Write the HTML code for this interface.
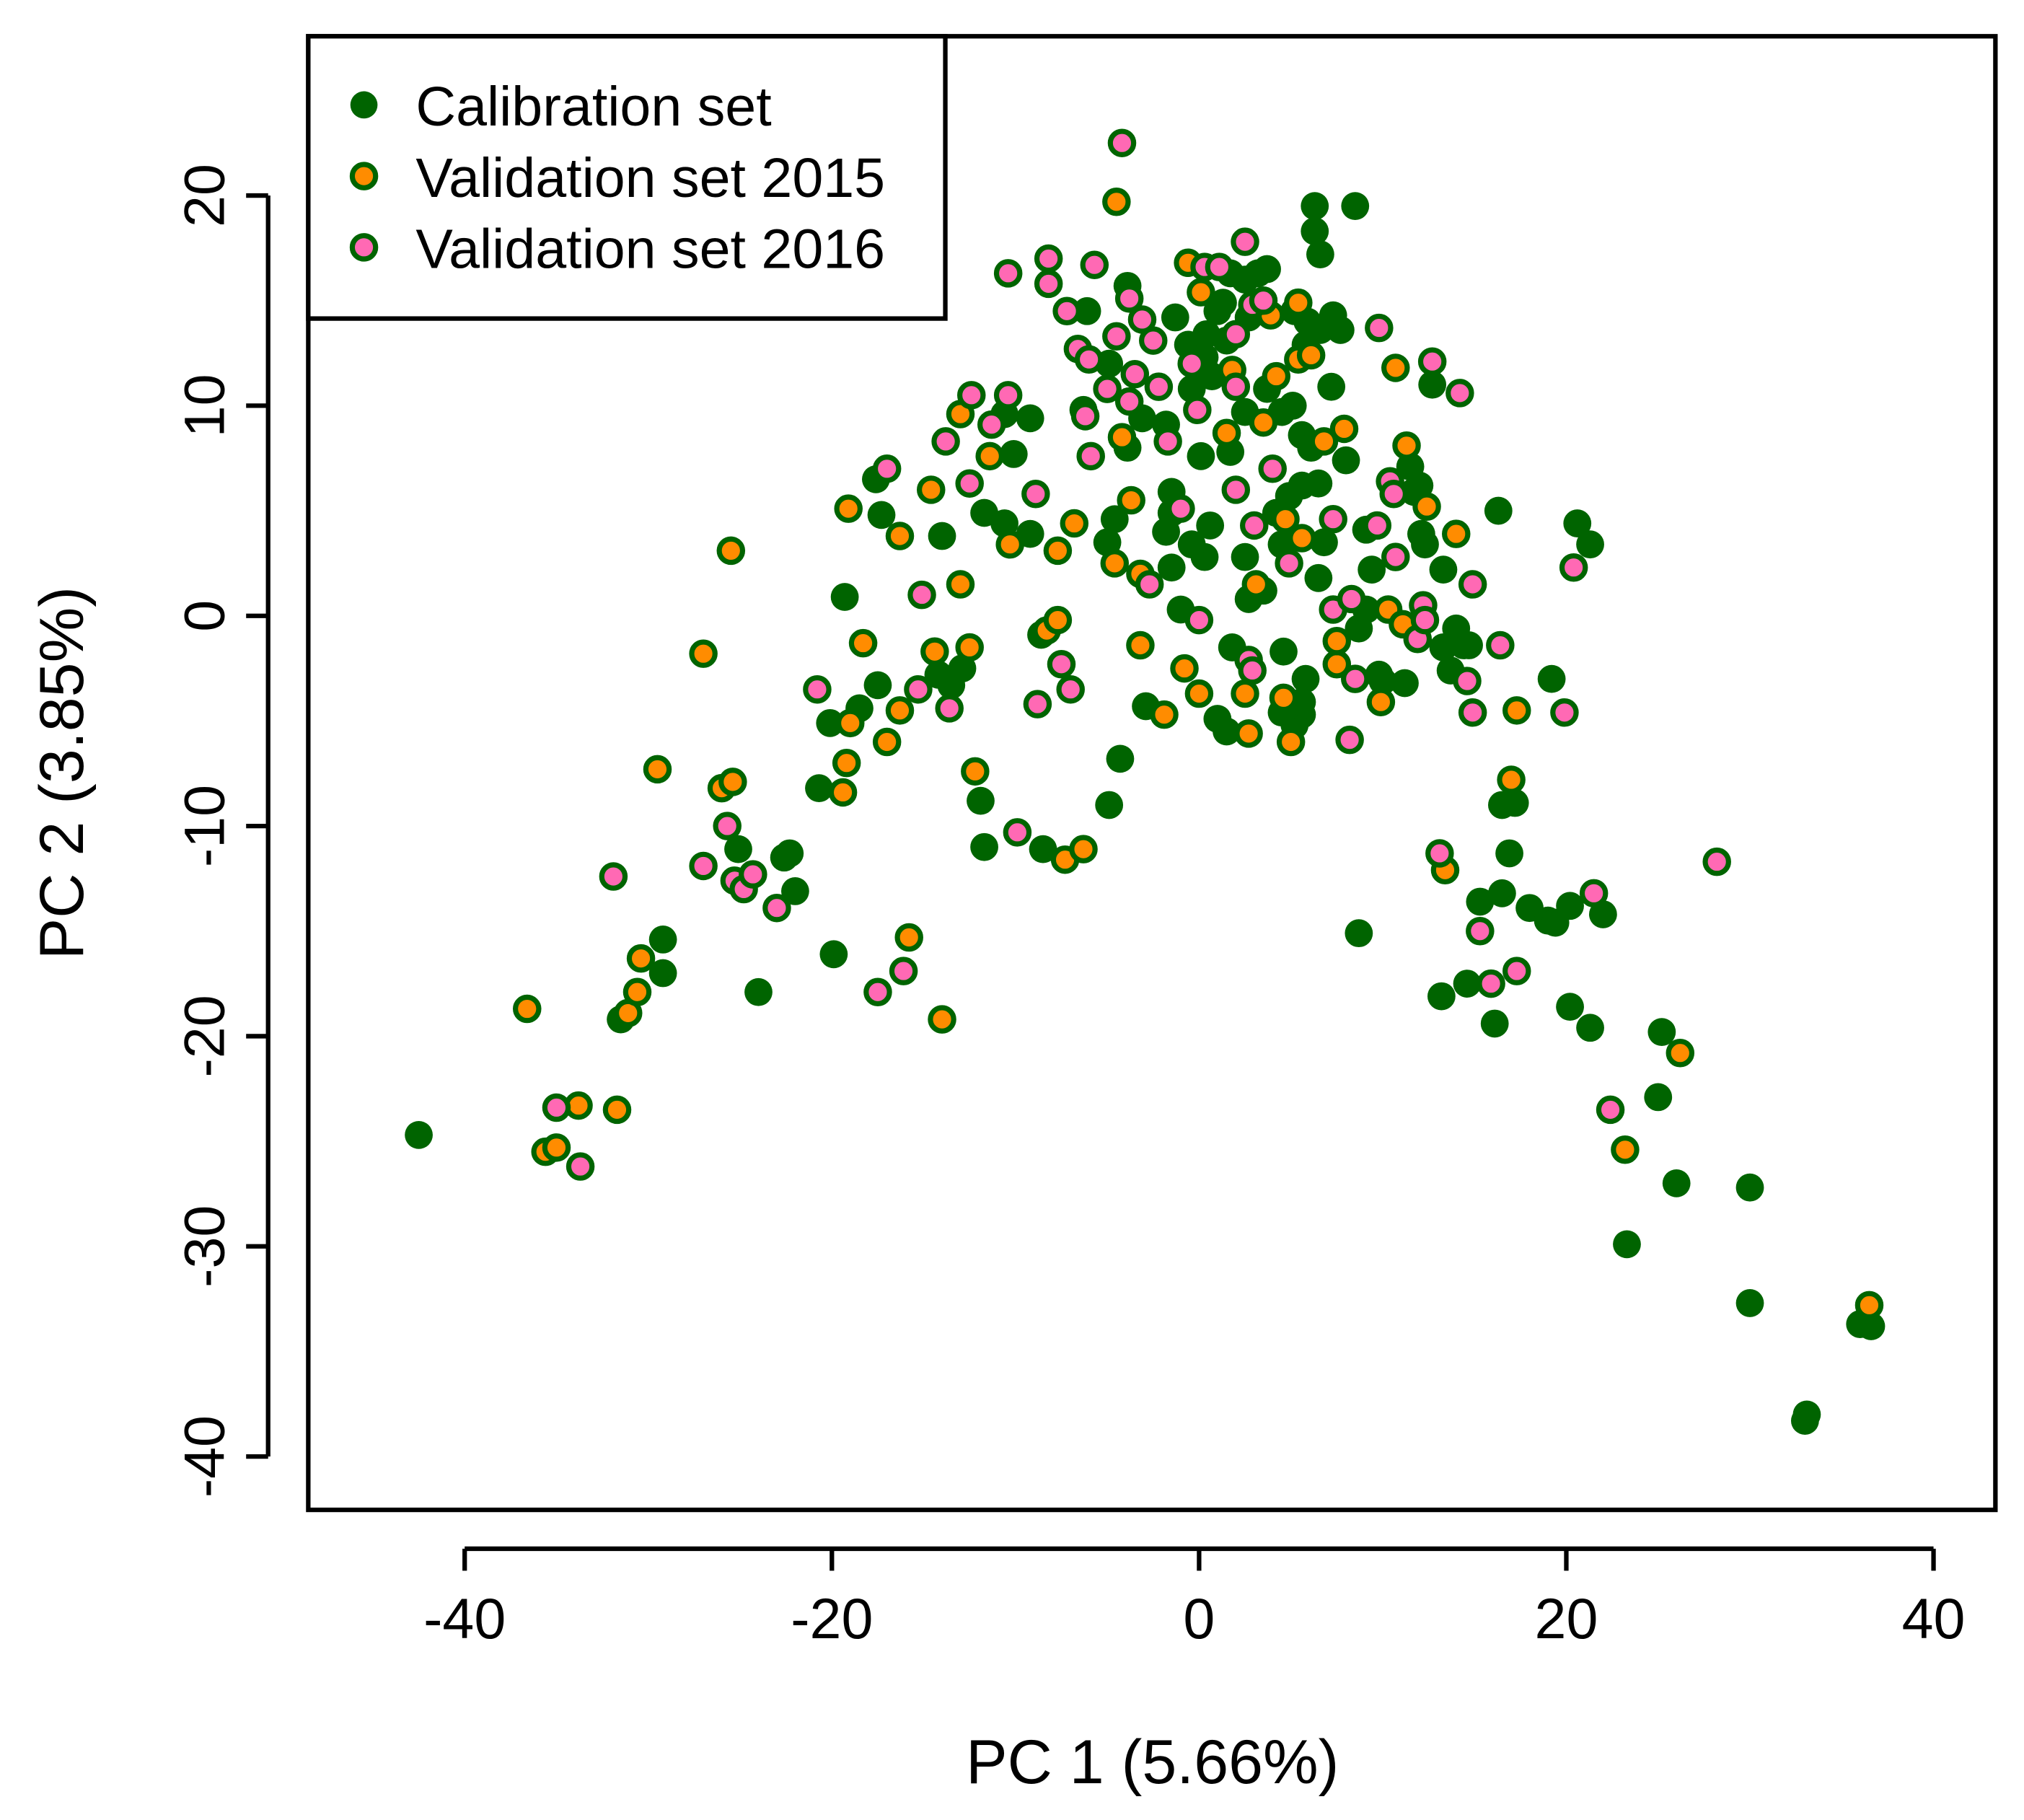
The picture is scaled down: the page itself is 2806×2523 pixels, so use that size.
<!DOCTYPE html>
<html><head><meta charset="utf-8"><style>
html,body{margin:0;padding:0;background:#fff;}
svg{display:block;}
text{font-family:"Liberation Sans",Arial,sans-serif;fill:#000;}
</style></head><body>
<svg id="chart" xmlns="http://www.w3.org/2000/svg" width="2806" height="2523" viewBox="0 0 1563 1405.5">
<rect x="0" y="0" width="1563" height="1405.5" fill="#fff"/>
<g id="points"></g>
<rect x="238" y="28" width="1303" height="1138" fill="none" stroke="#000" stroke-width="3.5"/>
<g id="xaxis"></g>
<g id="yaxis"></g>
<text x="890" y="1377" font-size="48" text-anchor="middle">PC 1 (5.66%)</text>
<text transform="translate(64,597) rotate(-90)" font-size="48" text-anchor="middle">PC 2 (3.85%)</text>
<g>
<rect x="238" y="28" width="492" height="218" fill="#fff" stroke="#000" stroke-width="3.5"/>
<circle cx="281" cy="81" r="10.5" fill="#006400"/>
<text x="321" y="97" font-size="43">Calibration set</text>
<circle cx="281" cy="136" r="9" fill="#FF8C00" stroke="#006400" stroke-width="4"/>
<text x="321" y="152" font-size="43">Validation set 2015</text>
<circle cx="281" cy="191" r="9" fill="#FF69B4" stroke="#006400" stroke-width="4"/>
<text x="321" y="207" font-size="43">Validation set 2016</text>
</g>
</svg>
<script>
const xTicks=[-40,-20,0,20,40];
const yTicks=[-40,-30,-20,-10,0,10,20];
const calX=[-42.5,33,33.1,30,30,23.3,26,25,25.2,20.2,21.3,16.1,14.6,13.2,8.7,18,19,19.4,20.2,22,16.5,15.3,16.9,16.5,17.2,19.2,16.3,20.6,21.3,6.3,8.5,6.3,36,36.6,
-24,-19.9,-31.5,-29.2,-29.2,-25.1,-22.6,-22.3,-22,-20.7,-11.7,-11.9,-8.5,-4.9,-4.3,-19.3,-20.1,-18.5,-17.5,-17.6,-17.3,
-1.3,-0.6,0.4,1,1.3,1.7,2.5,3.2,3.7,2.7,1.5,0.3,-0.4,0.7,0.1,1.7,2.5,3.7,4.5,5.1,5.6,5.8,5.9,5.2,6.6,7.3,7.7,7.2,6.1,6.5,5.6,4.9,4.2,2.5,3.5,2.7,4.5,6.8,6.5,9.1,9.4,8.7,9.1,9.8,11.2,11.5,11.7,12.1,12.3,13.3,14,14.4,13.7,14.7,13.3,5.8,5.6,5.2,4.5,5.6,4.6,1.5,1.8,0.3,0.6,-1.8,-1.5,-0.4,-1.5,-1.8,-3.1,-3.9,-4.6,-5,-1,-1.5,-2.9,1,
-14.2,-13.5,-12.9,-14,-11.7,-10.6,-9.2,-8.6,-10.1,-10.6,-9.2,-6.3,-4.9,-6.1,-3.9,12.7,6.6,8,12,10];
const calY=[-24.7,-38.3,-38,-32.7,-27.2,-29.9,-27,-22.9,-19.8,-18.6,-19.6,-19.4,-17.5,-18.1,-15.1,-13.9,-14.5,-14.6,-13.8,-14.2,-13.2,-13.6,-11.3,-9,-8.9,-3,5,4.4,3.4,19.5,19.5,18.3,-33.7,-33.8,
-17.9,-16.1,-19.2,-17,-15.4,-11.1,-11.5,-11.3,-13.1,-8.2,-11,-8.8,-11.1,-9,-6.8,0.9,-5.1,-4.4,-3.3,6.5,4.8,
14.2,12.9,13.4,14.5,14.9,16.3,16,16.3,16.5,14.2,13.1,12.3,10.8,11.4,7.6,7.8,9.7,10.8,9.7,10,8.6,12.9,14,14.5,13.6,14.3,13.6,10.9,8,6.3,6.2,5.7,4.9,2.8,1.2,0.8,3.4,3.5,1.8,4.1,2.2,-0.6,0.3,-2.8,-3.2,7.1,5.9,3.9,3.4,2.2,-0.6,-1.4,-2.6,-1.4,-1.5,-3,-4.7,-5.2,-4.6,-4.1,-1.7,-5.5,-1.5,2.8,4.3,4,4.9,3.4,5.9,9.1,9.4,8,4.6,3.5,0.3,2.3,-4.3,-4.9,
-2.8,-3.3,-2.5,3.8,4.9,4.4,3.9,-0.9,7.7,9.6,9.4,9.8,12,14.5,15.7,11,17.2,7.4,6.2,-3.1];
const v15X=[-36.6,-35.6,-35,-33.8,-31.7,-29.5,-31.1,-30.6,-30.4,-27,-26,-25.4,-25.5,-19.2,-19.4,-19,-19.1,-18.3,-17,-16.3,-16.3,-14.6,-14.4,-13,-12.5,-12.2,-13,-11.4,-10.3,-8.3,-7.7,-7.7,-6.8,-7.3,-6.3,-15.8,-14,-4.6,-4.5,-4.2,-3.7,-3.2,-3.2,-1.9,-0.8,0,-0.6,0.1,1.5,1.8,2.5,2.7,3.1,3.5,4.2,3.9,4.6,4.7,5,5.4,5.6,5.4,6.1,6.8,7.5,7.5,7.9,9.9,10.3,10.7,11.1,11.3,12.4,14,17.3,17,13.4,23.2,26.2,36.5];
const v15Y=[-18.7,-25.5,-25.3,-23.3,-23.5,-7.3,-18.9,-17.9,-16.3,-1.8,-8.2,-7.9,3.1,-7,-8.4,-5.1,5.1,-1.3,-6,-4.5,3.8,6,-1.7,1.5,-1.5,-7.4,9.6,7.6,3.4,-0.7,-0.2,3.1,4.4,-11.6,-11.1,-15.3,-19.2,2.5,19.7,8.5,5.5,2,-1.4,-4.7,-2.5,-3.7,16.8,15.4,8.7,11.7,-3.7,-5.6,1.5,9.2,11.4,14.3,-3.9,4.6,-6,14.9,3.7,12.2,12.4,8.3,-2.3,-1.2,8.9,-4.1,0.3,11.8,-0.4,8.1,5.2,3.9,-4.5,-7.8,-12.1,-25.4,-20.8,-32.8];
const v16X=[-4.2,-8.2,-8.2,-10.4,-5.7,-7.2,-6.6,-6,-5,-6.2,-5.9,-4.5,-3.8,-3.1,-2.5,-3.5,-3.8,-2.2,-1.7,-0.4,-0.1,0.3,1.1,2.5,2,2,2.9,3.5,2,3,4,4.9,-12.4,-10.4,-11.3,-13.8,-12.5,-8.9,-17,-15.1,-15.3,-13.6,-20.8,-8.8,-7.5,-7,-9.9,-17.5,-16.1,-27,-25.7,-25.3,-24.8,-24.3,-23,-31.9,-35,-33.7,-2.7,0,2.7,2.9,7.3,7.3,8.5,8.2,8.3,9.8,10.4,10.6,9.7,10.7,12.7,14.2,12.2,11.9,12.3,14.9,14.6,14.9,16.4,17.3,15.9,15.3,13.1,21.5,22.4,19.9,20.4,28.2,-1];
const v16Y=[22.5,17,15.8,16.3,16.7,14.5,12.7,12.2,10.8,9.5,7.6,13.3,15.1,14.1,13.1,11.5,10.2,10.9,8.3,12,9.8,16.6,16.6,17.8,13.4,10.9,14.8,15,6,4.3,7,2.5,10.5,10.5,9.1,8.3,6.3,5.8,7,1,-3.5,-4.4,-3.5,-4.2,-2.3,-3.5,-10.3,-17.9,-16.9,-11.9,-10,-12.6,-13,-12.3,-13.9,-12.4,-23.4,-26.2,1.5,-0.2,-2.1,-2.6,0.3,4.6,-3,-5.9,0.8,13.7,6.4,5.8,4.3,2.8,12.1,10.6,0.5,-1.1,-0.2,1.5,-3.1,-4.6,-1.4,-16.9,-17.5,-15,-11.3,-13.2,-23.5,-4.6,2.3,-11.7,5.1];

const NS='http://www.w3.org/2000/svg';
function sx(v){return 926+v*14.18;}
function sy(v){return 475.6-v*16.23;}
const pts=document.getElementById('points');
function drawSet(xs,ys,fill,bordered,name){
  for(let i=0;i<xs.length;i++){
    const c=document.createElementNS(NS,'circle');
    c.setAttribute('cx',sx(xs[i]));c.setAttribute('cy',sy(ys[i]));
    if(bordered){c.setAttribute('r',9);c.setAttribute('fill',fill);c.setAttribute('stroke','#006400');c.setAttribute('stroke-width',4);}
    else{c.setAttribute('r',10.8);c.setAttribute('fill',fill);}
    
    
    pts.appendChild(c);
  }
}
drawSet(calX,calY,'#006400',false,'calibration-point');
drawSet(v15X,v15Y,'#FF8C00',true,'validation-2015-point');
drawSet(v16X,v16Y,'#FF69B4',true,'validation-2016-point');

const xa=document.getElementById('xaxis');
let l=document.createElementNS(NS,'line');
l.setAttribute('x1',sx(xTicks[0]));l.setAttribute('x2',sx(xTicks[xTicks.length-1]));
l.setAttribute('y1',1196);l.setAttribute('y2',1196);l.setAttribute('stroke','#000');l.setAttribute('stroke-width',3.5);


xa.appendChild(l);
xTicks.forEach(t=>{
  const k=document.createElementNS(NS,'line');
  k.setAttribute('x1',sx(t));k.setAttribute('x2',sx(t));k.setAttribute('y1',1196);k.setAttribute('y2',1213);
  k.setAttribute('stroke','#000');k.setAttribute('stroke-width',3.5);
  
  
  xa.appendChild(k);
  const tx=document.createElementNS(NS,'text');
  tx.setAttribute('x',sx(t));tx.setAttribute('y',1265);tx.setAttribute('font-size',44);tx.setAttribute('text-anchor','middle');
  tx.textContent=String(t);
  
  
  xa.appendChild(tx);
});
const ya=document.getElementById('yaxis');
l=document.createElementNS(NS,'line');
l.setAttribute('x1',207);l.setAttribute('x2',207);
l.setAttribute('y1',sy(yTicks[0]));l.setAttribute('y2',sy(yTicks[yTicks.length-1]));l.setAttribute('stroke','#000');l.setAttribute('stroke-width',3.5);


ya.appendChild(l);
yTicks.forEach(t=>{
  const k=document.createElementNS(NS,'line');
  k.setAttribute('x1',190);k.setAttribute('x2',207);k.setAttribute('y1',sy(t));k.setAttribute('y2',sy(t));
  k.setAttribute('stroke','#000');k.setAttribute('stroke-width',3.5);
  
  
  ya.appendChild(k);
  const tx=document.createElementNS(NS,'text');
  tx.setAttribute('transform','translate(173,'+sy(t)+') rotate(-90)');tx.setAttribute('font-size',44);tx.setAttribute('text-anchor','middle');
  tx.textContent=String(t);
  
  
  ya.appendChild(tx);
});
</script>
</body></html>
